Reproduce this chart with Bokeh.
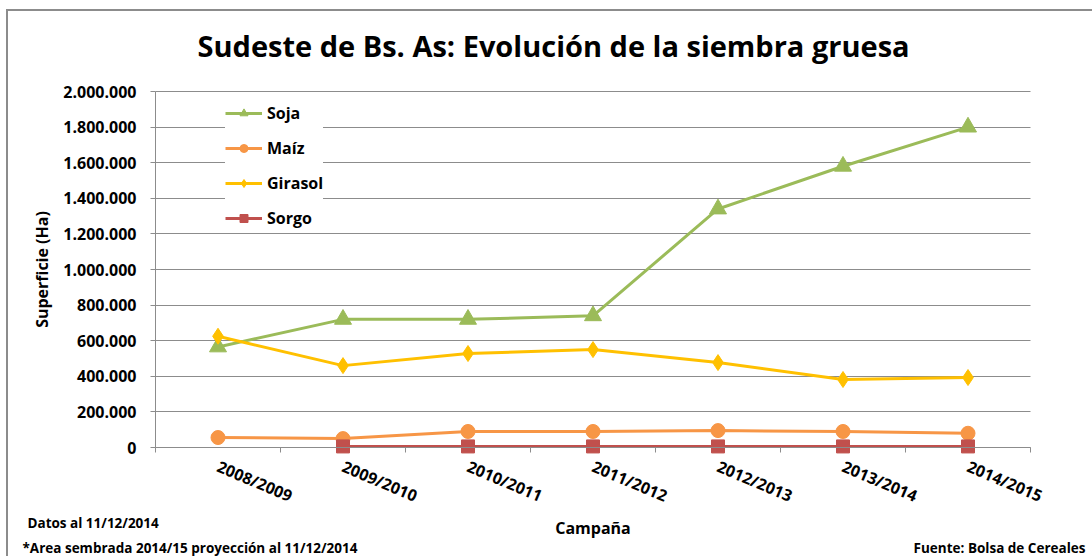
import math
from bokeh.plotting import figure
from bokeh.models import Range1d, FixedTicker, Label, Legend, LegendItem
from bokeh.embed import file_html
from bokeh.resources import INLINE

# ---- data ----
campaigns = ["2008/2009", "2009/2010", "2010/2011", "2011/2012", "2012/2013", "2013/2014", "2014/2015"]
soja = [565000, 720000, 720000, 740000, 1340000, 1580000, 1800000]
maiz = [56000, 50000, 90000, 90000, 95000, 90000, 80000]
girasol = [625000, 460000, 528000, 550000, 477000, 382000, 393000]
sorgo = [float("nan"), 6000, 6000, 6000, 6000, 6000, 6000]
y_ticks = [0, 200000, 400000, 600000, 800000, 1000000, 1200000, 1400000, 1600000, 1800000, 2000000]
y_tick_labels = ["0", "200.000", "400.000", "600.000", "800.000", "1.000.000",
                 "1.200.000", "1.400.000", "1.600.000", "1.800.000", "2.000.000"]

FONT = "Open Sans"
W, H = 1092, 556
# plot-area geometry (pixels) of the reference chart
AX_L, AX_R, AX_T, AX_B = 155, 1030, 91, 447
FRAME_TOP = 78
n = len(campaigns)
y_max = y_ticks[-1]
x = [i + 0.5 for i in range(n)]

x_per_px = n / (AX_R - AX_L)
y_per_px = y_max / (AX_B - AX_T)
x_range = Range1d(-AX_L * x_per_px, n + (W - AX_R) * x_per_px)
y_range = Range1d(-(H - AX_B) * y_per_px, y_max + (AX_T - FRAME_TOP) * y_per_px)

p = figure(width=W, height=H, output_backend="svg", toolbar_location=None,
           x_range=x_range, y_range=y_range,
           min_border_left=0, min_border_right=0, min_border_top=FRAME_TOP, min_border_bottom=0)
p.outline_line_color = None
p.background_fill_color = None
p.border_fill_color = None
# chart-area border (grey line at top and left), drawn behind the transparent canvas
p.styles = {
    "background-color": "white",
    "background-image": "linear-gradient(#8C8C8C, #8C8C8C), linear-gradient(#8C8C8C, #8C8C8C)",
    "background-size": "1086px 2px, 2px 547px",
    "background-position": "6px 9px, 6px 9px",
    "background-repeat": "no-repeat",
}

# title
p.title.text = "Sudeste de Bs. As: Evolución de la siembra gruesa"
p.title.text_font = FONT
p.title.text_font_style = "bold"
p.title.text_font_size = "29px"
p.title.align = "left"
p.title.offset = 197
p.title.standoff = 28
p.title.text_color = "black"

# grids
p.xgrid.visible = False
p.ygrid.ticker = FixedTicker(ticks=y_ticks)
p.ygrid.grid_line_color = "#8C8C8C"
p.ygrid.grid_line_width = 1
try:
    p.ygrid.cross_bounds = (0, n)
except Exception:
    p.ygrid.visible = False
    p.segment(x0=[0] * len(y_ticks), x1=[n] * len(y_ticks), y0=y_ticks, y1=y_ticks,
              line_color="#8C8C8C", line_width=1)

# y axis
p.yaxis.fixed_location = 0
p.yaxis.bounds = (0, y_max)
p.yaxis.ticker = FixedTicker(ticks=y_ticks)
p.yaxis.major_label_overrides = {t: l for t, l in zip(y_ticks, y_tick_labels)}
p.yaxis.major_label_text_font = FONT
p.yaxis.major_label_text_font_style = "bold"
p.yaxis.major_label_text_font_size = "16px"
p.yaxis.major_label_text_color = "black"
p.yaxis.major_tick_out = 5
p.yaxis.major_tick_in = 0
p.yaxis.minor_tick_line_color = None
p.yaxis.major_label_standoff = 14
p.yaxis.axis_line_color = "#8C8C8C"
p.yaxis.major_tick_line_color = "#8C8C8C"
p.yaxis.axis_label = "Superficie (Ha)"
p.yaxis.axis_label_text_font = FONT
p.yaxis.axis_label_text_font_style = "bold"
p.yaxis.axis_label_text_font_size = "16px"
p.yaxis.axis_label_text_color = "black"
p.yaxis.axis_label_standoff = 7

# x axis
p.xaxis.fixed_location = 0
p.xaxis.bounds = (0, n)
p.xaxis.ticker = FixedTicker(ticks=x, minor_ticks=list(range(n + 1)))
p.xaxis.major_label_overrides = {xv: c for xv, c in zip(x, campaigns)}
p.xaxis.major_label_orientation = -0.4
p.xaxis.major_label_text_font = FONT
p.xaxis.major_label_text_font_style = "bold"
p.xaxis.major_label_text_font_size = "16px"
p.xaxis.major_label_text_color = "black"
p.xaxis.major_tick_out = 0
p.xaxis.major_tick_in = 0
p.xaxis.minor_tick_out = 5
p.xaxis.minor_tick_in = 0
p.xaxis.minor_tick_line_color = "#8C8C8C"
p.xaxis.axis_line_color = "#8C8C8C"
p.xaxis.major_label_standoff = 13
p.xaxis.axis_label = "Campaña"
p.xaxis.axis_label_text_font = FONT
p.xaxis.axis_label_text_font_style = "bold"
p.xaxis.axis_label_text_font_size = "16px"
p.xaxis.axis_label_text_color = "black"
p.xaxis.axis_label_standoff = -3

# series
series = [
    ("Soja", soja, "#9BBB59", "triangle", 17),
    ("Maíz", maiz, "#F79646", "circle", 14),
    ("Girasol", girasol, "#FFC000", "diamond", 16),
    ("Sorgo", sorgo, "#C0504D", "square", 13),
]
items = []
for name, ys, color, marker, size in series:
    ln = p.line(x, ys, line_color=color, line_width=3)
    sc = p.scatter(x, ys, marker=marker, size=size, fill_color=color, line_color=color)
    items.append(LegendItem(label=name, renderers=[ln, sc]))

legend = Legend(items=items, location=(AX_L + 70, (H - AX_B) + 218))
legend.label_text_font = FONT
legend.label_text_font_style = "bold"
legend.label_text_font_size = "16px"
legend.label_text_color = "black"
legend.glyph_width = 37
legend.glyph_height = 20
legend.label_height = 20
legend.spacing = 13
legend.padding = 8
legend.label_standoff = 5
legend.border_line_color = None
legend.background_fill_color = "white"
legend.background_fill_alpha = 1
p.add_layout(legend)

# notes (frame covers the whole canvas below the title)
note_style = dict(x_units="screen", y_units="screen", text_font=FONT, text_font_style="bold",
                  text_font_size="13.5px", text_color="black", text_baseline="middle")
p.add_layout(Label(x=27, y=H - 522, text="Datos al 11/12/2014", **note_style))
p.add_layout(Label(x=22, y=H - 547, text="*Area sembrada 2014/15 proyección al 11/12/2014", **note_style))
p.add_layout(Label(x=1085, y=H - 547, text="Fuente: Bolsa de Cereales", text_align="right", **note_style))

open("out.html", "w").write(file_html(p, INLINE))
